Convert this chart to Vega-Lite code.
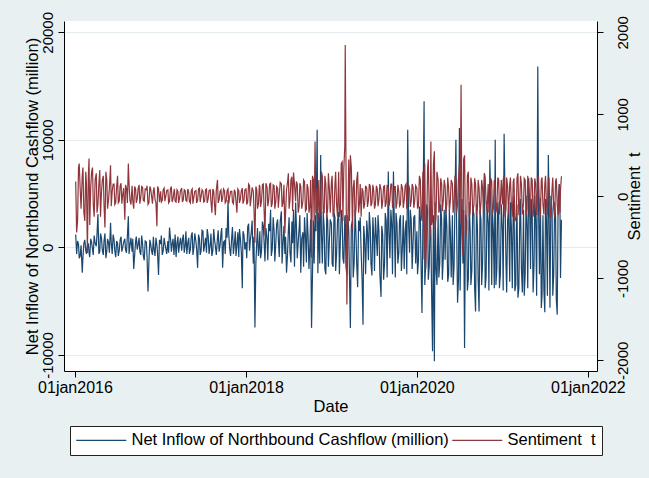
{
  "$schema": "https://vega.github.io/schema/vega-lite/v6.json",
  "width": 533,
  "height": 350,
  "autosize": "none",
  "padding": {"left": 64, "top": 21, "right": 52, "bottom": 107},
  "background": "#e8f0f2",
  "config": {
    "view": {"fill": "white", "stroke": null},
    "font": "Liberation Sans",
    "axis": {
      "domainColor": "black", "tickColor": "black", "labelColor": "black", "titleColor": "black",
      "titleFontWeight": "normal", "labelFontSize": 15, "titleFontSize": 16.5, "tickSize": 6
    }
  },
  "datasets": {
    "flows": [
      {"d":"2016-01-04","n":1200,"s":180},{"d":"2016-01-08","n":-600,"s":-440},{"d":"2016-01-16","n":300,"s":350},{"d":"2016-01-23","n":-800,"s":100},
      {"d":"2016-02-01","n":-2350,"s":250},{"d":"2016-02-08","n":400,"s":-200},{"d":"2016-02-16","n":-300,"s":300},{"d":"2016-02-23","n":200,"s":-690},
      {"d":"2016-03-01","n":-500,"s":460},{"d":"2016-03-08","n":800,"s":100},{"d":"2016-03-16","n":-200,"s":350},{"d":"2016-03-23","n":1100,"s":-250},
      {"d":"2016-04-01","n":100,"s":280},{"d":"2016-04-08","n":3100,"s":-100},{"d":"2016-04-16","n":-400,"s":320},{"d":"2016-04-23","n":900,"s":50},
      {"d":"2016-05-01","n":-700,"s":250},{"d":"2016-05-08","n":1300,"s":-380},{"d":"2016-05-16","n":-300,"s":200},{"d":"2016-05-23","n":500,"s":-50},
      {"d":"2016-06-01","n":2300,"s":380},{"d":"2016-06-08","n":-600,"s":60},{"d":"2016-06-16","n":700,"s":150},{"d":"2016-06-23","n":-900,"s":-80},
      {"d":"2016-07-01","n":400,"s":250},{"d":"2016-07-08","n":-300,"s":-60},{"d":"2016-07-16","n":1000,"s":160},{"d":"2016-07-23","n":0,"s":20},
      {"d":"2016-08-01","n":800,"s":-285},{"d":"2016-08-08","n":-500,"s":100},{"d":"2016-08-16","n":2900,"s":400},{"d":"2016-08-23","n":200,"s":-50},
      {"d":"2016-09-01","n":-400,"s":130},{"d":"2016-09-08","n":-2000,"s":-150},{"d":"2016-09-16","n":600,"s":90},{"d":"2016-09-23","n":-200,"s":-30},
      {"d":"2016-10-01","n":900,"s":140},{"d":"2016-10-08","n":-700,"s":-20},{"d":"2016-10-16","n":300,"s":110},{"d":"2016-10-23","n":-1200,"s":-60},
      {"d":"2016-11-01","n":500,"s":80},{"d":"2016-11-08","n":-4090,"s":-100},{"d":"2016-11-16","n":700,"s":120},{"d":"2016-11-23","n":-300,"s":10},
      {"d":"2016-12-01","n":1000,"s":70},{"d":"2016-12-08","n":-800,"s":-40},{"d":"2016-12-16","n":200,"s":-365},{"d":"2016-12-23","n":-2560,"s":90},
      {"d":"2017-01-01","n":300,"s":60},{"d":"2017-01-08","n":-700,"s":-50},{"d":"2017-01-16","n":900,"s":100},{"d":"2017-01-23","n":-100,"s":0},
      {"d":"2017-02-01","n":600,"s":80},{"d":"2017-02-08","n":1850,"s":-60},{"d":"2017-02-16","n":-400,"s":120},{"d":"2017-02-23","n":800,"s":-30},
      {"d":"2017-03-01","n":100,"s":90},{"d":"2017-03-08","n":-900,"s":-70},{"d":"2017-03-16","n":1000,"s":60},{"d":"2017-03-23","n":300,"s":-20},
      {"d":"2017-04-01","n":-300,"s":100},{"d":"2017-04-08","n":1200,"s":-40},{"d":"2017-04-16","n":200,"s":70},{"d":"2017-04-23","n":-600,"s":-60},
      {"d":"2017-05-01","n":900,"s":50},{"d":"2017-05-08","n":-200,"s":-80},{"d":"2017-05-16","n":1400,"s":90},{"d":"2017-05-23","n":0,"s":-10},
      {"d":"2017-06-01","n":500,"s":70},{"d":"2017-06-08","n":-1900,"s":-50},{"d":"2017-06-16","n":800,"s":100},{"d":"2017-06-23","n":-300,"s":0},
      {"d":"2017-07-01","n":1500,"s":60},{"d":"2017-07-08","n":200,"s":-60},{"d":"2017-07-16","n":-500,"s":90},{"d":"2017-07-23","n":1100,"s":-30},
      {"d":"2017-08-01","n":300,"s":80},{"d":"2017-08-08","n":-800,"s":-200},{"d":"2017-08-16","n":1700,"s":60},{"d":"2017-08-23","n":100,"s":-230},
      {"d":"2017-09-01","n":900,"s":200},{"d":"2017-09-08","n":-400,"s":-40},{"d":"2017-09-16","n":1300,"s":80},{"d":"2017-09-23","n":-1900,"s":-20},
      {"d":"2017-10-01","n":600,"s":70},{"d":"2017-10-08","n":1800,"s":-60},{"d":"2017-10-16","n":4400,"s":90},{"d":"2017-10-23","n":-100,"s":-10},
      {"d":"2017-11-01","n":1000,"s":60},{"d":"2017-11-08","n":-600,"s":-90},{"d":"2017-11-16","n":1500,"s":50},{"d":"2017-11-23","n":200,"s":-200},
      {"d":"2017-12-01","n":-900,"s":70},{"d":"2017-12-08","n":800,"s":-30},{"d":"2017-12-16","n":-3800,"s":100},{"d":"2017-12-23","n":1200,"s":-50},
      {"d":"2018-01-01","n":500,"s":90},{"d":"2018-01-08","n":1900,"s":-70},{"d":"2018-01-16","n":-300,"s":130},{"d":"2018-01-23","n":1300,"s":-20},
      {"d":"2018-02-01","n":-1500,"s":60},{"d":"2018-02-08","n":-7450,"s":-565},{"d":"2018-02-16","n":600,"s":80},{"d":"2018-02-23","n":-800,"s":-100},
      {"d":"2018-03-01","n":1500,"s":120},{"d":"2018-03-08","n":-400,"s":-60},{"d":"2018-03-16","n":2000,"s":150},{"d":"2018-03-23","n":-1300,"s":-480},
      {"d":"2018-04-01","n":800,"s":110},{"d":"2018-04-08","n":2200,"s":-40},{"d":"2018-04-16","n":3500,"s":160},{"d":"2018-04-23","n":-200,"s":-90},
      {"d":"2018-05-01","n":1500,"s":130},{"d":"2018-05-08","n":300,"s":-70},{"d":"2018-05-16","n":2600,"s":100},{"d":"2018-05-23","n":-900,"s":20},
      {"d":"2018-06-01","n":3350,"s":150},{"d":"2018-06-08","n":400,"s":-80},{"d":"2018-06-16","n":-600,"s":-450},{"d":"2018-06-23","n":-2350,"s":80},
      {"d":"2018-07-01","n":1600,"s":280},{"d":"2018-07-08","n":-500,"s":-40},{"d":"2018-07-16","n":2400,"s":240},{"d":"2018-07-23","n":3500,"s":290},
      {"d":"2018-08-01","n":4170,"s":-60},{"d":"2018-08-08","n":-1000,"s":150},{"d":"2018-08-16","n":1800,"s":-120},{"d":"2018-08-23","n":-2360,"s":120},
      {"d":"2018-09-01","n":1400,"s":-60},{"d":"2018-09-08","n":2800,"s":180},{"d":"2018-09-16","n":-1400,"s":-160},{"d":"2018-09-23","n":1100,"s":100},
      {"d":"2018-10-01","n":300,"s":-120},{"d":"2018-10-08","n":-7480,"s":-750},{"d":"2018-10-16","n":2500,"s":200},{"d":"2018-10-23","n":3000,"s":670},
      {"d":"2018-11-01","n":10950,"s":100},{"d":"2018-11-08","n":3200,"s":200},{"d":"2018-11-16","n":8600,"s":-100},{"d":"2018-11-23","n":-1500,"s":250},
      {"d":"2018-12-01","n":1800,"s":-200},{"d":"2018-12-08","n":-2500,"s":150},{"d":"2018-12-16","n":2500,"s":-150},{"d":"2018-12-23","n":500,"s":100},
      {"d":"2019-01-01","n":2200,"s":180},{"d":"2019-01-08","n":-1800,"s":-250},{"d":"2019-01-16","n":2800,"s":150},{"d":"2019-01-23","n":-600,"s":-100},
      {"d":"2019-02-01","n":3300,"s":300},{"d":"2019-02-08","n":500,"s":-200},{"d":"2019-02-16","n":2600,"s":420},{"d":"2019-02-23","n":-1500,"s":350},
      {"d":"2019-03-01","n":3000,"s":1845},{"d":"2019-03-08","n":-2500,"s":-1320},{"d":"2019-03-16","n":1500,"s":450},{"d":"2019-03-23","n":-7490,"s":500},
      {"d":"2019-04-01","n":2500,"s":-400},{"d":"2019-04-08","n":-1500,"s":200},{"d":"2019-04-16","n":1200,"s":-150},{"d":"2019-04-23","n":-3700,"s":300},
      {"d":"2019-05-01","n":1500,"s":-80},{"d":"2019-05-08","n":-400,"s":-250},{"d":"2019-05-16","n":-7180,"s":60},{"d":"2019-05-23","n":800,"s":-100},
      {"d":"2019-06-01","n":2500,"s":100},{"d":"2019-06-08","n":-1200,"s":-50},{"d":"2019-06-16","n":1800,"s":120},{"d":"2019-06-23","n":-2600,"s":-80},
      {"d":"2019-07-01","n":1000,"s":60},{"d":"2019-07-08","n":2800,"s":-100},{"d":"2019-07-16","n":-800,"s":90},{"d":"2019-07-23","n":1500,"s":-40},
      {"d":"2019-08-01","n":-4600,"s":80},{"d":"2019-08-08","n":1200,"s":-60},{"d":"2019-08-16","n":-1500,"s":130},{"d":"2019-08-23","n":2500,"s":-80},
      {"d":"2019-09-01","n":7060,"s":100},{"d":"2019-09-08","n":-1000,"s":-50},{"d":"2019-09-16","n":2000,"s":150},{"d":"2019-09-23","n":7060,"s":-60},
      {"d":"2019-10-01","n":-2800,"s":120},{"d":"2019-10-08","n":2200,"s":-80},{"d":"2019-10-16","n":-500,"s":60},{"d":"2019-10-23","n":3000,"s":-100},
      {"d":"2019-11-01","n":500,"s":90},{"d":"2019-11-08","n":-2000,"s":-50},{"d":"2019-11-16","n":2500,"s":150},{"d":"2019-11-23","n":10940,"s":-40},
      {"d":"2019-12-01","n":-500,"s":90},{"d":"2019-12-08","n":2500,"s":-60},{"d":"2019-12-16","n":500,"s":110},{"d":"2019-12-23","n":3000,"s":-50},
      {"d":"2020-01-01","n":1500,"s":100},{"d":"2020-01-08","n":-1200,"s":-120},{"d":"2020-01-16","n":2800,"s":200},{"d":"2020-01-23","n":-6100,"s":-300},
      {"d":"2020-02-01","n":13600,"s":-770},{"d":"2020-02-08","n":-1500,"s":-890},{"d":"2020-02-16","n":3500,"s":350},{"d":"2020-02-23","n":-1760,"s":-200},
      {"d":"2020-03-01","n":1500,"s":670},{"d":"2020-03-08","n":-9660,"s":-300},{"d":"2020-03-16","n":-10590,"s":550},{"d":"2020-03-23","n":-2000,"s":-250},
      {"d":"2020-04-01","n":3000,"s":200},{"d":"2020-04-08","n":-1500,"s":-150},{"d":"2020-04-16","n":2500,"s":150},{"d":"2020-04-23","n":-1000,"s":-50},
      {"d":"2020-05-01","n":-1140,"s":120},{"d":"2020-05-08","n":2000,"s":-100},{"d":"2020-05-16","n":-2500,"s":100},{"d":"2020-05-23","n":1500,"s":-60},
      {"d":"2020-06-01","n":3000,"s":150},{"d":"2020-06-08","n":-1800,"s":-80},{"d":"2020-06-16","n":10000,"s":200},{"d":"2020-06-23","n":-5150,"s":-100},
      {"d":"2020-07-01","n":11100,"s":400},{"d":"2020-07-08","n":2000,"s":1360},{"d":"2020-07-16","n":-1500,"s":-730},{"d":"2020-07-23","n":-9350,"s":500},
      {"d":"2020-08-01","n":2500,"s":-400},{"d":"2020-08-08","n":-3000,"s":300},{"d":"2020-08-16","n":1500,"s":-200},{"d":"2020-08-23","n":-2200,"s":150},
      {"d":"2020-09-01","n":3000,"s":-100},{"d":"2020-09-08","n":-5950,"s":150},{"d":"2020-09-16","n":1800,"s":-150},{"d":"2020-09-23","n":-5950,"s":100},
      {"d":"2020-10-01","n":2500,"s":-80},{"d":"2020-10-08","n":-1500,"s":100},{"d":"2020-10-16","n":6900,"s":280},{"d":"2020-10-23","n":-2800,"s":-60},
      {"d":"2020-11-01","n":2200,"s":150},{"d":"2020-11-08","n":8150,"s":-100},{"d":"2020-11-16","n":-3500,"s":180},{"d":"2020-11-23","n":1500,"s":-150},
      {"d":"2020-12-01","n":10000,"s":100},{"d":"2020-12-08","n":-2000,"s":-120},{"d":"2020-12-16","n":3000,"s":200},{"d":"2020-12-23","n":-2500,"s":-80},
      {"d":"2021-01-01","n":1500,"s":-100},{"d":"2021-01-08","n":10560,"s":250},{"d":"2021-01-16","n":-1500,"s":-150},{"d":"2021-01-23","n":2500,"s":120},
      {"d":"2021-02-01","n":-3200,"s":150},{"d":"2021-02-08","n":2000,"s":-100},{"d":"2021-02-16","n":3500,"s":180},{"d":"2021-02-23","n":-4060,"s":-300},
      {"d":"2021-03-01","n":1500,"s":-250},{"d":"2021-03-08","n":-4680,"s":280},{"d":"2021-03-16","n":2800,"s":-100},{"d":"2021-03-23","n":-2000,"s":150},
      {"d":"2021-04-01","n":3500,"s":-80},{"d":"2021-04-08","n":-2500,"s":200},{"d":"2021-04-16","n":1800,"s":-150},{"d":"2021-04-23","n":6440,"s":100},
      {"d":"2021-05-01","n":-2000,"s":-150},{"d":"2021-05-08","n":3200,"s":200},{"d":"2021-05-16","n":-1500,"s":-100},{"d":"2021-05-23","n":2500,"s":150},
      {"d":"2021-06-01","n":16820,"s":180},{"d":"2021-06-08","n":-2500,"s":-150},{"d":"2021-06-16","n":-5630,"s":200},{"d":"2021-06-23","n":3000,"s":-100},
      {"d":"2021-07-01","n":-6030,"s":150},{"d":"2021-07-08","n":2500,"s":-100},{"d":"2021-07-16","n":8600,"s":220},{"d":"2021-07-23","n":-5600,"s":-250},
      {"d":"2021-08-01","n":3500,"s":100},{"d":"2021-08-08","n":-2500,"s":-150},{"d":"2021-08-16","n":2800,"s":180},{"d":"2021-08-23","n":-6250,"s":-100},
      {"d":"2021-09-01","n":5900,"s":150},{"d":"2021-09-06","n":-2850,"s":80},{"d":"2021-09-10","n":2570,"s":245},

      {"d":"2016-01-12","n":600,"s":-300},{"d":"2016-01-19","n":-1000,"s":400},{"d":"2016-01-27","n":200,"s":-150},
      {"d":"2016-02-04","n":-900,"s":350},{"d":"2016-02-12","n":700,"s":-300},{"d":"2016-02-19","n":-600,"s":150},{"d":"2016-02-27","n":300,"s":250},
      {"d":"2016-03-04","n":-900,"s":-350},{"d":"2016-03-12","n":500,"s":300},{"d":"2016-03-19","n":-700,"s":-100},{"d":"2016-03-27","n":400,"s":200},
      {"d":"2016-04-04","n":1200,"s":-200},{"d":"2016-04-12","n":-600,"s":150},{"d":"2016-04-19","n":1300,"s":-250},{"d":"2016-04-27","n":-300,"s":200},
      {"d":"2016-05-04","n":600,"s":-100},{"d":"2016-05-12","n":-1000,"s":300},{"d":"2016-05-19","n":800,"s":-150},{"d":"2016-05-27","n":-500,"s":100},
      {"d":"2016-06-04","n":400,"s":-120},{"d":"2016-06-12","n":1200,"s":150},{"d":"2016-06-19","n":-300,"s":-100},{"d":"2016-06-27","n":600,"s":120},
      {"d":"2016-07-04","n":-800,"s":-80},{"d":"2016-07-12","n":700,"s":130},{"d":"2016-07-19","n":-400,"s":-90},{"d":"2016-07-27","n":500,"s":100},
      {"d":"2016-08-04","n":-200,"s":140},{"d":"2016-08-12","n":1100,"s":-80},{"d":"2016-08-19","n":-600,"s":150},{"d":"2016-08-27","n":900,"s":-100},
      {"d":"2016-09-04","n":800,"s":-60},{"d":"2016-09-12","n":-700,"s":120},{"d":"2016-09-19","n":1000,"s":-80},{"d":"2016-09-27","n":300,"s":100},
      {"d":"2016-10-04","n":-400,"s":-90},{"d":"2016-10-12","n":1100,"s":120},{"d":"2016-10-19","n":-800,"s":-50},{"d":"2016-10-27","n":600,"s":90},
      {"d":"2016-11-04","n":-900,"s":130},{"d":"2016-11-12","n":-1200,"s":-80},{"d":"2016-11-19","n":400,"s":100},{"d":"2016-11-27","n":-700,"s":-90},
      {"d":"2016-12-04","n":-200,"s":110},{"d":"2016-12-12","n":900,"s":-80},{"d":"2016-12-19","n":-600,"s":120},{"d":"2016-12-27","n":700,"s":-70},
      {"d":"2017-01-04","n":1100,"s":-70},{"d":"2017-01-12","n":-300,"s":80},{"d":"2017-01-19","n":400,"s":-60},{"d":"2017-01-27","n":-600,"s":70},
      {"d":"2017-02-04","n":-500,"s":-80},{"d":"2017-02-12","n":900,"s":90},{"d":"2017-02-19","n":300,"s":-70},{"d":"2017-02-27","n":-700,"s":60},
      {"d":"2017-03-04","n":1200,"s":-60},{"d":"2017-03-12","n":400,"s":80},{"d":"2017-03-19","n":-500,"s":-80},{"d":"2017-03-27","n":900,"s":70},
      {"d":"2017-04-04","n":700,"s":-70},{"d":"2017-04-12","n":-500,"s":80},{"d":"2017-04-19","n":1500,"s":-50},{"d":"2017-04-27","n":400,"s":90},
      {"d":"2017-05-04","n":-600,"s":-60},{"d":"2017-05-12","n":1100,"s":70},{"d":"2017-05-19","n":-700,"s":-90},{"d":"2017-05-27","n":1300,"s":60},
      {"d":"2017-06-04","n":-200,"s":-80},{"d":"2017-06-12","n":1200,"s":90},{"d":"2017-06-19","n":-700,"s":-70},{"d":"2017-06-27","n":1600,"s":80},
      {"d":"2017-07-04","n":-400,"s":-70},{"d":"2017-07-12","n":900,"s":80},{"d":"2017-07-19","n":1700,"s":-80},{"d":"2017-07-27","n":-600,"s":70},
      {"d":"2017-08-04","n":1300,"s":-60},{"d":"2017-08-12","n":-300,"s":90},{"d":"2017-08-19","n":800,"s":-90},{"d":"2017-08-27","n":-700,"s":80},
      {"d":"2017-09-04","n":1600,"s":-80},{"d":"2017-09-12","n":200,"s":60},{"d":"2017-09-19","n":1800,"s":-70},{"d":"2017-09-27","n":500,"s":90},
      {"d":"2017-10-04","n":-600,"s":-80},{"d":"2017-10-12","n":900,"s":70},{"d":"2017-10-19","n":1300,"s":-90},{"d":"2017-10-27","n":-800,"s":60},
      {"d":"2017-11-04","n":1900,"s":-70},{"d":"2017-11-12","n":300,"s":80},{"d":"2017-11-19","n":-800,"s":-60},{"d":"2017-11-27","n":1400,"s":90},
      {"d":"2017-12-04","n":1700,"s":-80},{"d":"2017-12-12","n":-500,"s":70},{"d":"2017-12-19","n":1500,"s":-90},{"d":"2017-12-27","n":-200,"s":80},
      {"d":"2018-01-04","n":-1000,"s":-100},{"d":"2018-01-12","n":2200,"s":150},{"d":"2018-01-19","n":600,"s":-120},{"d":"2018-01-27","n":2500,"s":110},
      {"d":"2018-02-04","n":1000,"s":-150},{"d":"2018-02-12","n":-1500,"s":120},{"d":"2018-02-19","n":1800,"s":-150},{"d":"2018-02-27","n":400,"s":140},
      {"d":"2018-03-04","n":-1000,"s":-130},{"d":"2018-03-12","n":2400,"s":140},{"d":"2018-03-19","n":600,"s":-150},{"d":"2018-03-27","n":1800,"s":160},
      {"d":"2018-04-04","n":-1200,"s":-120},{"d":"2018-04-12","n":1500,"s":150},{"d":"2018-04-19","n":-800,"s":-130},{"d":"2018-04-27","n":2800,"s":140},
      {"d":"2018-05-04","n":-1300,"s":-150},{"d":"2018-05-12","n":2200,"s":120},{"d":"2018-05-19","n":800,"s":-140},{"d":"2018-05-27","n":2400,"s":170},
      {"d":"2018-06-04","n":-1500,"s":-130},{"d":"2018-06-12","n":2000,"s":140},{"d":"2018-06-19","n":1000,"s":-200},{"d":"2018-06-27","n":-800,"s":160},
      {"d":"2018-07-04","n":2800,"s":-150},{"d":"2018-07-12","n":-1400,"s":200},{"d":"2018-07-19","n":400,"s":-180},{"d":"2018-07-27","n":-1800,"s":150},
      {"d":"2018-08-04","n":2200,"s":180},{"d":"2018-08-12","n":500,"s":-200},{"d":"2018-08-19","n":3000,"s":160},{"d":"2018-08-27","n":800,"s":-150},
      {"d":"2018-09-04","n":-1800,"s":200},{"d":"2018-09-12","n":1000,"s":-180},{"d":"2018-09-19","n":3200,"s":150},{"d":"2018-09-27","n":-2000,"s":-200},
      {"d":"2018-10-04","n":2600,"s":200},{"d":"2018-10-12","n":-2500,"s":250},{"d":"2018-10-19","n":-1500,"s":-300},{"d":"2018-10-27","n":1500,"s":-200},
      {"d":"2018-11-04","n":-2400,"s":-300},{"d":"2018-11-12","n":-1500,"s":-250},{"d":"2018-11-19","n":1500,"s":300},{"d":"2018-11-27","n":3300,"s":-200},
      {"d":"2018-12-04","n":-2000,"s":250},{"d":"2018-12-12","n":3000,"s":-250},{"d":"2018-12-19","n":-1800,"s":280},{"d":"2018-12-27","n":2600,"s":-200},
      {"d":"2019-01-04","n":-1500,"s":250},{"d":"2019-01-12","n":3200,"s":-200},{"d":"2019-01-19","n":-2200,"s":300},{"d":"2019-01-27","n":2500,"s":-250},
      {"d":"2019-02-04","n":-2500,"s":-250},{"d":"2019-02-12","n":3500,"s":400},{"d":"2019-02-19","n":-1000,"s":-300},{"d":"2019-02-27","n":2800,"s":600},
      {"d":"2019-03-04","n":-1800,"s":500},{"d":"2019-03-12","n":3000,"s":-400},{"d":"2019-03-19","n":-2500,"s":-300},{"d":"2019-03-27","n":2000,"s":350},
      {"d":"2019-04-04","n":-2800,"s":100},{"d":"2019-04-12","n":3500,"s":-250},{"d":"2019-04-19","n":-1500,"s":200},{"d":"2019-04-27","n":2500,"s":-200},
      {"d":"2019-05-04","n":2800,"s":150},{"d":"2019-05-12","n":-3000,"s":100},{"d":"2019-05-19","n":2000,"s":-150},{"d":"2019-05-27","n":-2500,"s":130},
      {"d":"2019-06-04","n":1500,"s":-130},{"d":"2019-06-12","n":3300,"s":150},{"d":"2019-06-19","n":-1500,"s":-120},{"d":"2019-06-27","n":2800,"s":140},
      {"d":"2019-07-04","n":-2200,"s":-150},{"d":"2019-07-12","n":1000,"s":130},{"d":"2019-07-19","n":3000,"s":-120},{"d":"2019-07-27","n":-2500,"s":150},
      {"d":"2019-08-04","n":2000,"s":-150},{"d":"2019-08-12","n":-3000,"s":120},{"d":"2019-08-19","n":3200,"s":-130},{"d":"2019-08-27","n":-2800,"s":140},
      {"d":"2019-09-04","n":1500,"s":-120},{"d":"2019-09-12","n":3500,"s":150},{"d":"2019-09-19","n":-2500,"s":-140},{"d":"2019-09-27","n":2000,"s":120},
      {"d":"2019-10-04","n":3200,"s":-150},{"d":"2019-10-12","n":-1500,"s":140},{"d":"2019-10-19","n":2500,"s":-120},{"d":"2019-10-27","n":-2200,"s":150},
      {"d":"2019-11-04","n":3000,"s":-140},{"d":"2019-11-12","n":1500,"s":130},{"d":"2019-11-19","n":-2500,"s":-150},{"d":"2019-11-27","n":2000,"s":140},
      {"d":"2019-12-04","n":3500,"s":-130},{"d":"2019-12-12","n":-2000,"s":150},{"d":"2019-12-19","n":2800,"s":-140},{"d":"2019-12-27","n":-1500,"s":130},
      {"d":"2020-01-04","n":-2500,"s":-150},{"d":"2020-01-12","n":3800,"s":250},{"d":"2020-01-19","n":-1500,"s":-200},{"d":"2020-01-27","n":2500,"s":300},
      {"d":"2020-02-04","n":-3500,"s":400},{"d":"2020-02-12","n":4000,"s":-400},{"d":"2020-02-19","n":-3000,"s":450},{"d":"2020-02-27","n":2800,"s":-500},
      {"d":"2020-03-04","n":-4000,"s":-350},{"d":"2020-03-12","n":3000,"s":400},{"d":"2020-03-19","n":4200,"s":-400},{"d":"2020-03-27","n":-3500,"s":300},
      {"d":"2020-04-04","n":-2800,"s":-200},{"d":"2020-04-12","n":4000,"s":220},{"d":"2020-04-19","n":-3000,"s":-180},{"d":"2020-04-27","n":3500,"s":200},
      {"d":"2020-05-04","n":3800,"s":-200},{"d":"2020-05-12","n":-3200,"s":230},{"d":"2020-05-19","n":3500,"s":-180},{"d":"2020-05-27","n":-2800,"s":200},
      {"d":"2020-06-04","n":-3500,"s":-200},{"d":"2020-06-12","n":4200,"s":250},{"d":"2020-06-19","n":2000,"s":-200},{"d":"2020-06-27","n":-3000,"s":220},
      {"d":"2020-07-04","n":-4000,"s":-300},{"d":"2020-07-12","n":4500,"s":-400},{"d":"2020-07-19","n":3500,"s":450},{"d":"2020-07-27","n":3000,"s":-500},
      {"d":"2020-08-04","n":-4000,"s":250},{"d":"2020-08-12","n":4200,"s":-250},{"d":"2020-08-19","n":-3500,"s":230},{"d":"2020-08-27","n":3800,"s":-200},
      {"d":"2020-09-04","n":-3800,"s":220},{"d":"2020-09-12","n":4000,"s":-230},{"d":"2020-09-19","n":-3000,"s":200},{"d":"2020-09-27","n":3500,"s":-220},
      {"d":"2020-10-04","n":-3500,"s":200},{"d":"2020-10-12","n":4200,"s":-200},{"d":"2020-10-19","n":-3800,"s":230},{"d":"2020-10-27","n":3800,"s":-180},
      {"d":"2020-11-04","n":-4000,"s":-200},{"d":"2020-11-12","n":4500,"s":220},{"d":"2020-11-19","n":3500,"s":-220},{"d":"2020-11-27","n":-3800,"s":200},
      {"d":"2020-12-04","n":-3500,"s":-200},{"d":"2020-12-12","n":4200,"s":230},{"d":"2020-12-19","n":-3800,"s":-220},{"d":"2020-12-27","n":4000,"s":200},
      {"d":"2021-01-04","n":-4000,"s":200},{"d":"2021-01-12","n":4500,"s":-250},{"d":"2021-01-19","n":-4200,"s":230},{"d":"2021-01-27","n":3800,"s":-220},
      {"d":"2021-02-04","n":4200,"s":230},{"d":"2021-02-12","n":-3800,"s":-250},{"d":"2021-02-19","n":4800,"s":220},{"d":"2021-02-27","n":-3500,"s":-280},
      {"d":"2021-03-04","n":4000,"s":220},{"d":"2021-03-12","n":-3800,"s":-230},{"d":"2021-03-19","n":4500,"s":250},{"d":"2021-03-27","n":-4200,"s":-220},
      {"d":"2021-04-04","n":-4500,"s":220},{"d":"2021-04-12","n":4800,"s":-230},{"d":"2021-04-19","n":-3800,"s":250},{"d":"2021-04-27","n":4200,"s":-250},
      {"d":"2021-05-04","n":4500,"s":230},{"d":"2021-05-12","n":-4200,"s":-250},{"d":"2021-05-19","n":4800,"s":220},{"d":"2021-05-27","n":-4500,"s":-230},
      {"d":"2021-06-04","n":4200,"s":250},{"d":"2021-06-12","n":4600,"s":-250},{"d":"2021-06-19","n":-4500,"s":230},{"d":"2021-06-27","n":-4000,"s":-220},
      {"d":"2021-07-04","n":4500,"s":250},{"d":"2021-07-12","n":-4500,"s":-230},{"d":"2021-07-19","n":4000,"s":220},{"d":"2021-07-27","n":4800,"s":-240},
      {"d":"2021-08-04","n":-4500,"s":230},{"d":"2021-08-12","n":4200,"s":-250},{"d":"2021-08-19","n":-4800,"s":220},{"d":"2021-08-27","n":4500,"s":-230},
      {"d":"2021-09-04","n":3000,"s":-200}
    ]
  },
  "data": {"name": "flows"},
  "encoding": {
    "x": {
      "field": "d", "type": "temporal",
      "scale": {"type": "utc", "domain": [{"year": 2015, "month": 11, "date": 15, "utc": true}, {"year": 2022, "month": 2, "date": 9, "utc": true}]},
      "axis": {
        "title": "Date", "grid": false, "labelFontSize": 16, "titleFontSize": 16.5,
        "values": [
          {"year": 2016, "month": 1, "date": 1, "utc": true},
          {"year": 2018, "month": 1, "date": 1, "utc": true},
          {"year": 2020, "month": 1, "date": 1, "utc": true},
          {"year": 2022, "month": 1, "date": 1, "utc": true}
        ],
        "labelExpr": "lower(utcFormat(datum.value, '%d%b%Y'))",
        "labelFlush": false, "labelOverlap": false, "labelPadding": 2, "titlePadding": 3
      }
    }
  },
  "layer": [
    {
      "mark": {"type": "line", "strokeWidth": 1.2, "clip": true},
      "encoding": {
        "y": {
          "field": "n", "type": "quantitative",
          "scale": {"domain": [-11490, 21050], "nice": false, "zero": false},
          "axis": {
            "orient": "left", "title": "Net Inflow of Northbound Cashflow (million)",
            "labelExpr": "'' + datum.value",
            "values": [-10000, 0, 10000, 20000], "grid": true, "gridColor": "#e3ebee", "gridWidth": 1.2,
            "labelAngle": -90, "labelAlign": "center", "labelBaseline": "bottom", "labelPadding": 3,
            "titlePadding": 0
          }
        },
        "color": {
          "datum": "Net Inflow of Northbound Cashflow (million)",
          "scale": {"domain": ["Net Inflow of Northbound Cashflow (million)", "Sentiment \u00a0t"], "range": ["#1a476f", "#90353b"]},
          "legend": {
            "orient": "none", "legendX": 6, "legendY": 405, "direction": "horizontal", "columns": 2,
            "title": null, "symbolType": "M-8,0H42", "symbolSize": 4, "symbolStrokeWidth": 1.2,
            "labelFontSize": 16.5, "labelColor": "black", "labelLimit": 800, "labelOffset": 39,
            "columnPadding": 0, "padding": 6, "fillColor": "white", "strokeColor": "#222"
          }
        }
      }
    },
    {
      "mark": {"type": "line", "strokeWidth": 1.2, "clip": true},
      "encoding": {
        "y": {
          "field": "s", "type": "quantitative",
          "scale": {"domain": [-2130, 2138], "nice": false, "zero": false},
          "axis": {
            "orient": "right", "title": "Sentiment \u00a0t",
            "labelExpr": "'' + datum.value",
            "values": [-2000, -1000, 0, 1000, 2000], "grid": false,
            "labelAngle": -90, "labelAlign": "center", "labelBaseline": "top", "labelPadding": 12,
            "titleAngle": -90, "titleBaseline": "top", "titlePadding": -4
          }
        },
        "color": {"datum": "Sentiment \u00a0t"}
      }
    }
  ],
  "resolve": {"scale": {"y": "independent"}}
}
